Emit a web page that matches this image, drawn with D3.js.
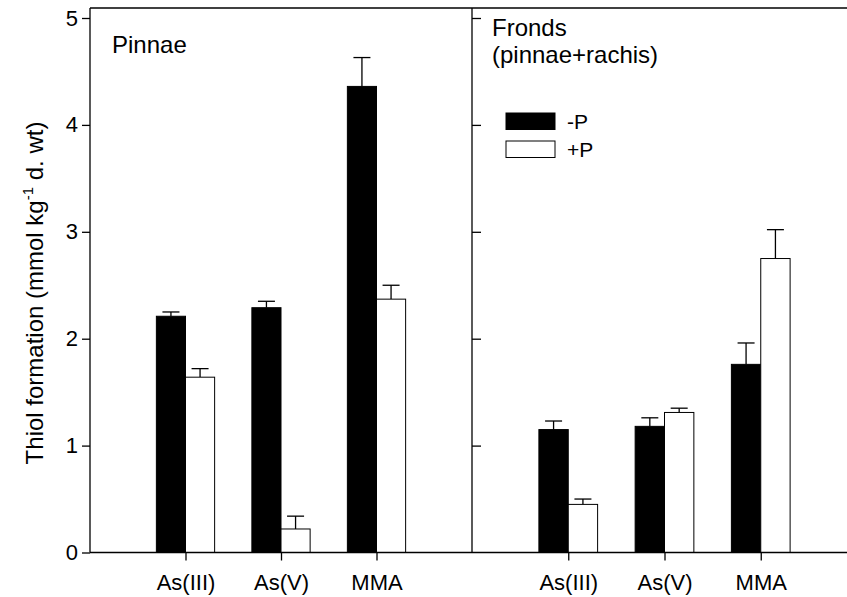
<!DOCTYPE html>
<html>
<head>
<meta charset="utf-8">
<script src="https://cdn.jsdelivr.net/npm/d3@7"></script>
<style>
  body { margin: 0; background: #fff; }
  svg { display: block; font-family: Arial, "Liberation Sans", sans-serif; }
  .axis path, .axis line { stroke: #000; stroke-width: 1.3; }
</style>
</head>
<body>
<div id="chart"></div>
<script>
// values (mmol kg-1 d. wt)
const species = ['As(III)', 'As(V)', 'MMA'];
const treatments = ['-P', '+P'];

const pinnaeMinusP = [2.21, 2.29, 4.36];
const pinnaeMinusPErr = [0.04, 0.06, 0.27];
const pinnaePlusP = [1.64, 0.22, 2.37];
const pinnaePlusPErr = [0.08, 0.12, 0.13];

const frondsMinusP = [1.15, 1.18, 1.76];
const frondsMinusPErr = [0.08, 0.08, 0.20];
const frondsPlusP = [0.45, 1.31, 2.75];
const frondsPlusPErr = [0.05, 0.04, 0.27];

const yTicks = [0, 1, 2, 3, 4, 5];

let width = 847;
let height = 597;

let plotTop = 8;
let plotBottom = 552.5;
let leftEdge = 90;
let divider = 472;
let rightEdge = 857;

let svg = d3.select('#chart').append('svg')
  .attr('width', width)
  .attr('height', height);

let y = d3.scaleLinear().domain([0, 5]).range([plotBottom, 18]);

let panels = [
  {
    name: 'pinnae',
    x: d3.scaleLinear().domain([0, 4]).range([leftEdge, divider]),
    series: [
      { values: pinnaeMinusP, errs: pinnaeMinusPErr, fill: '#000', side: -1 },
      { values: pinnaePlusP, errs: pinnaePlusPErr, fill: '#fff', side: 1 },
    ],
  },
  {
    name: 'fronds',
    x: d3.scaleLinear().domain([0, 4]).range([divider, rightEdge]),
    series: [
      { values: frondsMinusP, errs: frondsMinusPErr, fill: '#000', side: -1 },
      { values: frondsPlusP, errs: frondsPlusPErr, fill: '#fff', side: 1 },
    ],
  },
];

let barW = 0.305; // in category units
let capHalf = 8.5;

panels.forEach(p => {
  let g = svg.append('g').classed(p.name, true);
  let bw = p.x(barW) - p.x(0);

  p.series.forEach(s => {
    let rows = s.values.map((v, i) => ({ v, e: s.errs[i], pos: i + 1 }));

    // error bars (upper only)
    let eb = g.append('g').selectAll('g')
      .data(rows)
      .enter().append('g')
        .attr('transform', d => `translate(${p.x(d.pos) + s.side * bw / 2},0)`);
    eb.append('line')
      .attr('y1', d => y(d.v))
      .attr('y2', d => y(d.v + d.e))
      .attr('stroke', '#000')
      .attr('stroke-width', 1.3);
    eb.append('line')
      .attr('x1', -capHalf)
      .attr('x2', capHalf)
      .attr('y1', d => y(d.v + d.e))
      .attr('y2', d => y(d.v + d.e))
      .attr('stroke', '#000')
      .attr('stroke-width', 1.3);

    g.append('g').selectAll('rect')
      .data(rows)
      .enter().append('rect')
        .attr('x', d => s.side < 0 ? p.x(d.pos) - bw : p.x(d.pos))
        .attr('y', d => y(d.v))
        .attr('width', bw)
        .attr('height', d => y(0) - y(d.v))
        .attr('fill', s.fill)
        .attr('stroke', '#000')
        .attr('stroke-width', 1);
  });

  // bottom axis with category ticks
  let xAxis = d3.axisBottom(p.x)
    .tickValues([1, 2, 3])
    .tickFormat(d => species[d - 1])
    .tickSize(8)
    .tickSizeOuter(0)
    .tickPadding(14);
  g.append('g')
    .classed('axis', true)
    .attr('transform', `translate(0,${plotBottom})`)
    .call(xAxis)
    .call(a => a.select('.domain').remove())
    .call(a => a.selectAll('text').attr('font-size', 22).attr('fill', '#000'));
});

// left y axis, ticks outward
svg.append('g')
  .classed('axis', true)
  .attr('transform', `translate(${leftEdge},0)`)
  .call(d3.axisLeft(y).tickValues(yTicks).tickFormat(d3.format('d')).tickSize(8).tickPadding(4).tickSizeOuter(0))
  .call(a => a.select('.domain').remove())
  .call(a => a.selectAll('text').attr('font-size', 22).attr('fill', '#000'));

// right panel ticks point inward, no labels
svg.append('g')
  .classed('axis', true)
  .attr('transform', `translate(${divider},0)`)
  .call(d3.axisRight(y).tickValues(yTicks.slice(1)).tickSize(9).tickFormat('').tickSizeOuter(0))
  .call(a => a.select('.domain').remove());

// frame
let frame = svg.append('g')
  .attr('stroke', '#000')
  .attr('stroke-width', 1.3)
  .attr('fill', 'none');
frame.append('line').attr('x1', leftEdge).attr('x2', width).attr('y1', plotTop).attr('y2', plotTop);
frame.append('line').attr('x1', leftEdge).attr('x2', width).attr('y1', plotBottom).attr('y2', plotBottom);
frame.append('line').attr('x1', leftEdge).attr('x2', leftEdge).attr('y1', plotTop).attr('y2', plotBottom);
frame.append('line').attr('x1', divider).attr('x2', divider).attr('y1', plotTop).attr('y2', plotBottom);

// panel titles
svg.append('text')
  .attr('x', 112)
  .attr('y', 53)
  .style('font-size', '24px')
  .text('Pinnae');

let fr = svg.append('text')
  .attr('x', 492)
  .attr('y', 36)
  .style('font-size', '24px');
fr.append('tspan').attr('x', 492).text('Fronds');
fr.append('tspan').attr('x', 492).attr('dy', 27).text('(pinnae+rachis)');

// legend
let legend = svg.append('g').attr('transform', 'translate(506,113)');
let li = legend.selectAll('g')
  .data(treatments)
  .enter().append('g')
    .attr('transform', (d, i) => `translate(0,${i * 28})`);
li.append('rect')
  .attr('width', 49)
  .attr('height', 16.5)
  .attr('fill', (d, i) => i === 0 ? '#000' : '#fff')
  .attr('stroke', '#000')
  .attr('stroke-width', 1);
li.append('text')
  .attr('x', 61)
  .attr('y', 16)
  .style('font-size', '21px')
  .text(d => d);

// y axis title
let yt = svg.append('text')
  .attr('transform', `translate(43,293) rotate(-90)`)
  .attr('text-anchor', 'middle')
  .style('font-size', '24px');
yt.append('tspan').text('Thiol formation (mmol kg');
yt.append('tspan').attr('dy', -10).style('font-size', '15px').text('-1');
yt.append('tspan').attr('dy', 10).text(' d. wt)');
</script>
</body>
</html>
